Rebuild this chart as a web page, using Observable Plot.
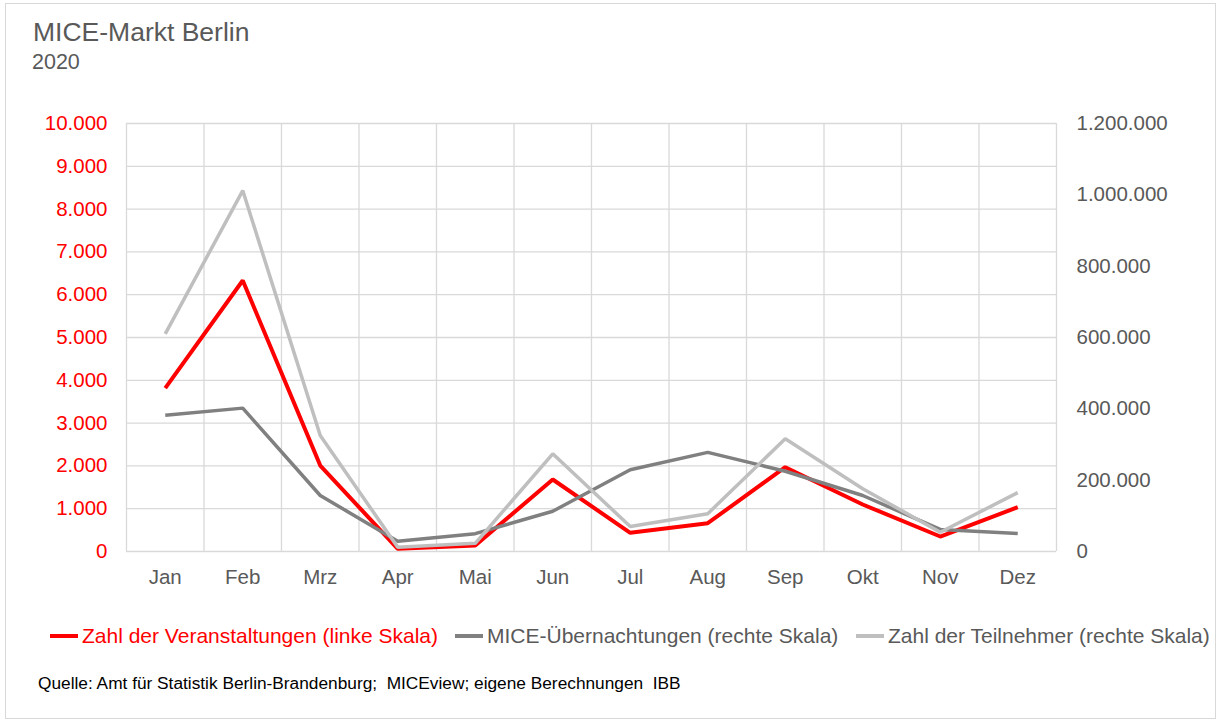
<!DOCTYPE html>
<html><head><meta charset="utf-8">
<script src="https://cdn.jsdelivr.net/npm/d3@7"></script>
<script src="https://cdn.jsdelivr.net/npm/@observablehq/plot@0.6"></script>
<style>
body{margin:0;background:#fff;font-family:"Liberation Sans",Arial,sans-serif;}
#wrap{position:relative;width:1219px;height:722px;overflow:hidden;}
#frame{position:absolute;left:5px;top:3px;width:1211px;height:716px;border:1px solid #d9d9d9;box-sizing:border-box;}
.t{position:absolute;white-space:pre;}
#chart{position:absolute;left:0;top:100px;}
.leg{position:absolute;top:623px;font-size:21px;line-height:26px;display:flex;align-items:center;white-space:pre;}
.sw{display:inline-block;width:28px;height:4px;margin-right:4px;}
</style></head><body>
<div id="wrap">
<div id="frame"></div>
<div class="t" style="left:33px;top:17px;font-size:26.5px;color:#595959;">MICE-Markt Berlin</div>
<div class="t" style="left:32px;top:50px;font-size:21.5px;color:#595959;">2020</div>
<div id="chart"></div>
<div class="leg" id="leg1" style="left:50px;color:#ff0000;"><span class="sw" style="background:#ff0000"></span>Zahl der Veranstaltungen (linke Skala)</div>
<div class="leg" id="leg2" style="left:455px;color:#595959;"><span class="sw" style="background:#808080"></span>MICE-Übernachtungen (rechte Skala)</div>
<div class="leg" id="leg3" style="left:856px;color:#595959;"><span class="sw" style="background:#bfbfbf"></span>Zahl der Teilnehmer (rechte Skala)</div>
<div class="t" style="left:38px;top:673px;font-size:17.3px;color:#000;">Quelle: Amt für Statistik Berlin-Brandenburg;  MICEview; eigene Berechnungen  IBB</div>
</div>
<script>
const months = ["Jan","Feb","Mrz","Apr","Mai","Jun","Jul","Aug","Sep","Okt","Nov","Dez"];
const veranstaltungen = [3816, 6332, 2009, 63, 140, 1682, 436, 661, 1970, 1098, 350, 1035];
const uebernachtungen = [382000, 402000, 157000, 29000, 50000, 113000, 229000, 278000, 225000, 157000, 62000, 50500];
const teilnehmer = [610000, 1012000, 325000, 12000, 23000, 274000, 70000, 106000, 316000, 176000, 54000, 165000];
const leftTicks = d3.range(0, 10001, 1000);
const rightTicks = d3.range(0, 1200001, 200000);
const ratio = 120; // right scale / left scale

const de = d3.formatLocale({decimal:",", thousands:".", grouping:[3], currency:["","€"]});
const fmt = de.format(",");

const rows = (vals, series, k) => vals.map((v, i) => ({x: i + 0.5, y: v / k, series}));
const redData = rows(veranstaltungen, "v", 1);
const darkData = rows(uebernachtungen, "u", ratio);
const lightData = rows(teilnehmer, "t", ratio);

const chart = Plot.plot({
  width: 1219,
  height: 500,
  marginLeft: 126,
  marginRight: 163,
  marginTop: 23,
  marginBottom: 49,
  style: {fontFamily: '"Liberation Sans", Arial, sans-serif', fontSize: "20.5px", background: "transparent"},
  x: {domain: [0, 12]},
  y: {domain: [0, 10000]},
  marks: [
    Plot.ruleY(leftTicks, {stroke: "#d9d9d9", strokeWidth: 1.3}),
    Plot.ruleX(d3.range(0, 13), {stroke: "#d9d9d9", strokeWidth: 1.3}),
    Plot.axisY(leftTicks, {anchor: "left", tickSize: 0, tickPadding: 19, tickFormat: fmt, fill: "#ff0000", label: null}),
    Plot.axisY(rightTicks.map(v => v / ratio), {anchor: "right", tickSize: 0, tickPadding: 20, tickFormat: d => fmt(Math.round(d * ratio)), fill: "#595959", label: null}),
    Plot.axisX(months.map((m, i) => i + 0.5), {tickSize: 0, tickPadding: 18, tickFormat: d => months[Math.floor(d)], fill: "#595959", label: null}),
    Plot.line(redData, {x: "x", y: "y", stroke: "#ff0000", strokeWidth: 4, strokeLinejoin: "miter", strokeLinecap: "butt"}),
    Plot.line(darkData, {x: "x", y: "y", stroke: "#808080", strokeWidth: 3.5, strokeLinejoin: "miter", strokeLinecap: "butt"}),
    Plot.line(lightData, {x: "x", y: "y", stroke: "#bfbfbf", strokeWidth: 3.5, strokeLinejoin: "miter", strokeLinecap: "butt"})
  ]
});
document.getElementById("chart").appendChild(chart);
</script>
</body></html>
